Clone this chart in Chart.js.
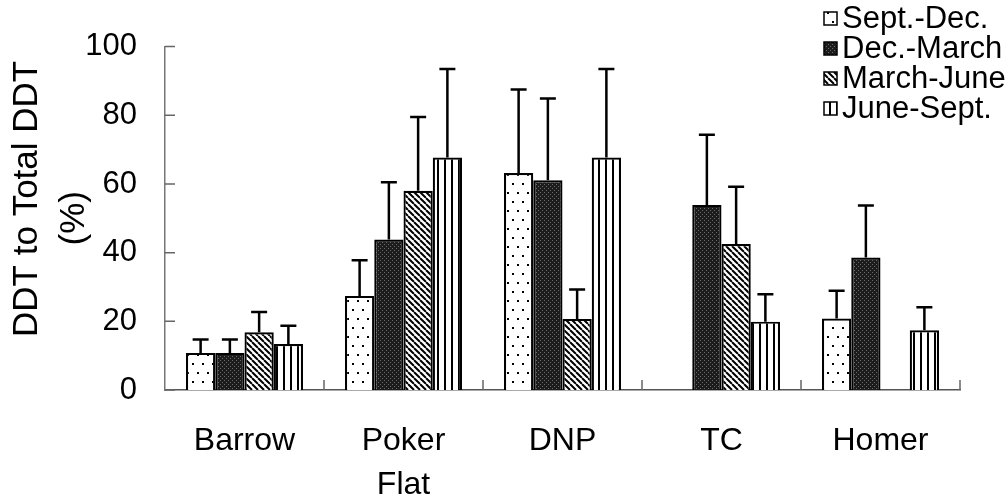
<!DOCTYPE html>
<html lang="en">
<head>
    <meta charset="UTF-8">
    <title>DDT to Total DDT</title>
    <script src="https://cdn.jsdelivr.net/npm/chart.js"></script>
    <style>
        body { margin: 0; background: #fff; }
        #chart { display: block; }
    </style>
</head>
<body>
    <canvas id="chart" width="1008" height="500"></canvas>

    <script>
        // sites along the x axis
        const sites = ['Barrow', ['Poker', 'Flat'], 'DNP', 'TC', 'Homer'];
        const seasons = ['Sept.-Dec.', 'Dec.-March', 'March-June', 'June-Sept.'];

        // mean % and upper error (SD) per season
        const sepDec = [10.8, 27.4, 63.2, null, 20.8];
        const sepDecErr = [3.9, 10.4, 24.3, null, 8.1];
        const decMar = [10.8, 43.8, 61.1, 53.9, 38.6];
        const decMarErr = [3.9, 16.7, 23.8, 20.4, 15.1];
        const marJun = [16.8, 58.0, 20.7, 42.5, null];
        const marJunErr = [5.9, 21.5, 8.6, 16.7, null];
        const junSep = [13.4, 67.7, 67.7, 19.9, 17.4];
        const junSepErr = [5.3, 25.8, 25.8, 8.0, 6.7];

        const yTicks = [0, 20, 40, 60, 80, 100];

        const FONT = "'Liberation Sans', Arial, sans-serif";
        Chart.defaults.font.family = FONT;
        Chart.defaults.color = '#000';

        function makePattern(w, h, draw) {
            const c = document.createElement('canvas');
            c.width = w;
            c.height = h;
            const g = c.getContext('2d');
            draw(g, w, h);
            return document.createElement('canvas').getContext('2d').createPattern(c, 'repeat');
        }

        const dotFill = makePattern(10, 18, (g, w, h) => {
            g.fillStyle = '#fff';
            g.fillRect(0, 0, w, h);
            g.fillStyle = '#000';
            g.fillRect(2, 3, 2, 2);
            g.fillRect(7, 12, 2, 2);
        });

        const darkFill = makePattern(4, 4, (g, w, h) => {
            g.fillStyle = '#1c1c1c';
            g.fillRect(0, 0, w, h);
            g.fillStyle = '#6a6a6a';
            g.fillRect(0, 0, 1, 1);
            g.fillRect(2, 2, 1, 1);
        });

        const diagFill = makePattern(6, 6, (g, w, h) => {
            g.fillStyle = '#fff';
            g.fillRect(0, 0, w, h);
            g.strokeStyle = '#000';
            g.lineWidth = 2;
            g.beginPath();
            [-6, 0, 6].forEach(k => {
                g.moveTo(k, 0);
                g.lineTo(k + 6, 6);
            });
            g.stroke();
        });

        const vertFill = makePattern(7, 7, (g, w, h) => {
            g.fillStyle = '#fff';
            g.fillRect(0, 0, w, h);
            g.fillStyle = '#000';
            g.fillRect(3, 0, 2, h);
        });

        const fills = [dotFill, darkFill, diagFill, vertFill];
        const values = [sepDec, decMar, marJun, junSep];
        const errors = [sepDecErr, decMarErr, marJunErr, junSepErr];

        // upward-only error bars with caps
        const errorBars = {
            id: 'errorBars',
            afterDatasetsDraw(chart) {
                const ctx = chart.ctx;
                const y = chart.scales.y;
                ctx.save();
                ctx.strokeStyle = '#000';
                ctx.lineWidth = 2.5;
                chart.data.datasets.forEach((ds, i) => {
                    const meta = chart.getDatasetMeta(i);
                    meta.data.forEach((bar, j) => {
                        const v = ds.data[j];
                        const e = errors[i][j];
                        if (v == null || e == null) return;
                        const y0 = y.getPixelForValue(v);
                        const y1 = y.getPixelForValue(v + e);
                        ctx.beginPath();
                        ctx.moveTo(bar.x, y0);
                        ctx.lineTo(bar.x, y1);
                        ctx.moveTo(bar.x - 8, y1);
                        ctx.lineTo(bar.x + 8, y1);
                        ctx.stroke();
                    });
                });
                ctx.restore();
            }
        };

        // inward tick marks on both axes
        const innerTicks = {
            id: 'innerTicks',
            afterDraw(chart) {
                const ctx = chart.ctx;
                const { x, y } = chart.scales;
                ctx.save();
                ctx.strokeStyle = '#666';
                ctx.lineWidth = 1.5;
                ctx.beginPath();
                yTicks.forEach(t => {
                    const py = y.getPixelForValue(t);
                    ctx.moveTo(x.left, py);
                    ctx.lineTo(x.left + 10, py);
                });
                const step = (x.right - x.left) / sites.length;
                for (let i = 1; i <= sites.length; i++) {
                    const px = x.left + i * step;
                    ctx.moveTo(px, y.bottom);
                    ctx.lineTo(px, y.bottom - 10);
                }
                ctx.stroke();
                ctx.restore();
            }
        };

        // legend in the top right corner, drawn over the plot
        const cornerLegend = {
            id: 'cornerLegend',
            afterDraw(chart) {
                const ctx = chart.ctx;
                ctx.save();
                ctx.font = '31px ' + FONT;
                ctx.textBaseline = 'middle';
                ctx.textAlign = 'left';
                seasons.forEach((name, i) => {
                    const cy = 18 + i * 30;
                    ctx.fillStyle = fills[i];
                    ctx.fillRect(824, cy - 6, 13, 13);
                    ctx.strokeStyle = '#000';
                    ctx.lineWidth = 1.5;
                    ctx.strokeRect(824, cy - 6, 13, 13);
                    ctx.fillStyle = '#000';
                    ctx.fillText(name, 842, cy + 1);
                });
                ctx.restore();
            }
        };

        new Chart(document.getElementById('chart'), {
            type: 'bar',
            data: {
                labels: sites,
                datasets: seasons.map((name, i) => ({
                    label: name,
                    data: values[i],
                    backgroundColor: fills[i],
                    borderColor: '#000',
                    borderWidth: 2.2,
                    categoryPercentage: 0.736,
                    barPercentage: 1.0
                }))
            },
            options: {
                responsive: false,
                animation: false,
                layout: { padding: { top: 37, right: 48, bottom: 0, left: 0 } },
                plugins: {
                    legend: { display: false },
                    tooltip: { enabled: false }
                },
                scales: {
                    x: {
                        grid: { display: false, drawTicks: false },
                        border: { display: true, color: '#555', width: 1.5 },
                        ticks: {
                            color: '#000',
                            padding: 30,
                            maxRotation: 0,
                            font: { size: 32, lineHeight: 1.35 }
                        },
                        afterFit: s => { s.height = 110; }
                    },
                    y: {
                        min: 0,
                        max: 100,
                        grid: { display: false, drawTicks: false },
                        border: { display: true, color: '#777', width: 1.5 },
                        ticks: {
                            stepSize: 20,
                            color: '#000',
                            padding: 28,
                            font: { size: 31 }
                        },
                        title: {
                            display: true,
                            text: ['    DDT to Total DDT', '(%)'],
                            color: '#000',
                            font: { size: 35, lineHeight: 1.34 },
                            padding: { top: 4, bottom: 0 }
                        },
                        afterFit: s => { s.width = 165; }
                    }
                }
            },
            plugins: [errorBars, innerTicks, cornerLegend]
        });
    </script>
</body>
</html>
